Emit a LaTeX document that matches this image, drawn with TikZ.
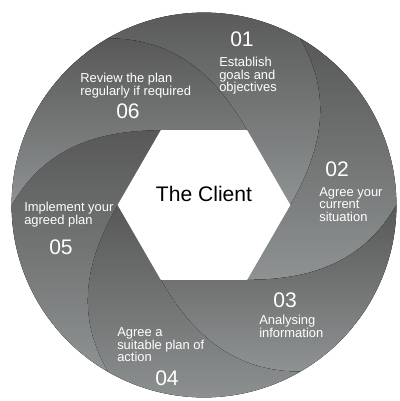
\documentclass[tikz,border=0pt]{standalone}
\usepackage{fontspec}
\setmainfont{Liberation Sans}
\usepackage{xcolor}
\definecolor{segdark}{RGB}{88,88,88}
\definecolor{seglight}{RGB}{142,146,146}
\usepackage{tikz}
\usetikzlibrary{positioning, calc}

\newcommand{\hexr}{2.16}
\newcommand{\ringr}{4.81}

\begin{document}
\begin{tikzpicture}[
  segment/.style={top color=segdark, bottom color=seglight, draw=none},
  stepno/.style={text=white, font=\fontsize{15}{15}\selectfont, inner sep=0pt},
  steptext/.style={text=white, font=\fontsize{9.2}{8.9}\selectfont,
                   align=left, anchor=north west, inner sep=0pt},
  client/.style={text=black, font=\fontsize{15}{15}\selectfont, inner sep=0pt},
]
\useasboundingbox (-5.1,-4.9) rectangle (4.9,5.125);

% Base ring (hides seams between segments)
\fill[segdark!50!seglight] (0,0) circle (\ringr);

% Segments - 01 to 06, clockwise
\fill[segment] (0:\hexr) -- (60:\hexr) to[out=120, in=0] (120:\ringr)
  arc[start angle=120, end angle=60, radius=\ringr] to[out=-60, in=60] (0:\hexr) -- cycle;
\fill[segment] (300:\hexr) -- (0:\hexr) to[out=60, in=-60] (60:\ringr)
  arc[start angle=60, end angle=0, radius=\ringr] to[out=240, in=0] (300:\hexr) -- cycle;
\fill[segment] (240:\hexr) -- (300:\hexr) to[out=0, in=240] (0:\ringr)
  arc[start angle=360, end angle=300, radius=\ringr] to[out=180, in=300] (240:\hexr) -- cycle;
\fill[segment] (180:\hexr) -- (240:\hexr) to[out=300, in=180] (300:\ringr)
  arc[start angle=300, end angle=240, radius=\ringr] to[out=120, in=240] (180:\hexr) -- cycle;
\fill[segment] (120:\hexr) -- (180:\hexr) to[out=240, in=120] (240:\ringr)
  arc[start angle=240, end angle=180, radius=\ringr] to[out=60, in=180] (120:\hexr) -- cycle;
\fill[segment] (60:\hexr) -- (120:\hexr) to[out=180, in=60] (180:\ringr)
  arc[start angle=180, end angle=120, radius=\ringr] to[out=0, in=120] (60:\hexr) -- cycle;

% Centre hexagon
\fill[white] (0:\hexr) -- (60:\hexr) -- (120:\hexr) -- (180:\hexr)
  -- (240:\hexr) -- (300:\hexr) -- cycle;
\node[client] (client) at (0, 0.275) {The Client};

% Step numbers
\node[stepno] (no1) at (0.95, 4.15) {01};
\node[stepno] (no2) at (3.325, 0.9) {02};
\node[stepno] (no3) at (2.025, -2.375) {03};
\node[stepno] (no4) at (-0.925, -4.325) {04};
\node[stepno] (no5) at (-3.575, -1.05) {05};
\node[stepno] (no6) at (-1.9, 2.35) {06};

% Step texts
\node[steptext] (txt1) at (0.375, 3.7) {Establish\\goals and\\objectives};
\node[steptext] (txt2) at (2.875, 0.45) {Agree your\\current\\situation};
\node[steptext] (txt3) at (1.375, -2.75) {Analysing\\information};
\node[steptext] (txt4) at (-2.175, -3.06) {Agree a\\suitable plan of\\action};
\node[steptext] (txt5) at (-4.5, 0.07) {Implement your\\agreed plan};
\node[steptext] (txt6) at (-3.1, 3.3) {Review the plan\\regularly if required};
\end{tikzpicture}
\end{document}
